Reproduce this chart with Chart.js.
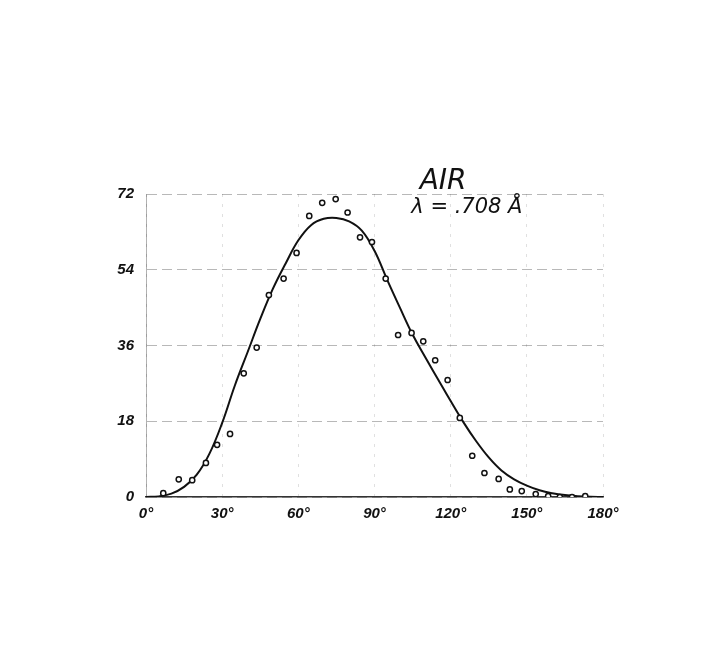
<!DOCTYPE html>
<html>
<head>
<meta charset="utf-8">
<script src="https://cdn.jsdelivr.net/npm/chart.js@4/dist/chart.umd.min.js"></script>
<style>
  html, body { margin: 0; padding: 0; background: #fff; }
  #wrap { width: 728px; height: 652px; }
</style>
</head>
<body>
<div id="wrap"><canvas id="airChart" width="728" height="652"></canvas></div>
<script>
// measured points (open circles)
var obsAngle = [6.8, 12.9, 18.2, 23.6, 28, 33.1, 38.5, 43.6, 48.4, 54.2, 59.3, 64.3, 69.4, 74.7, 79.4, 84.3, 89,
    94.4, 99.3, 104.6, 109.2, 113.9, 118.8, 123.6, 128.5, 133.3, 138.9, 143.3, 148, 153.5, 158.4, 163, 167.8, 173];
var obsValue = [0.9, 4.2, 4.0, 8.1, 12.4, 15.0, 29.4, 35.5, 48.0, 51.9, 58.0, 66.8, 69.9, 70.8, 67.6, 61.7, 60.6,
    51.9, 38.5, 39.0, 37.0, 32.5, 27.8, 18.8, 9.8, 5.7, 4.3, 1.8, 1.4, 0.7, 0.2, 0, 0, 0.2];

// smooth curve
var curveAngle = [0, 5, 10, 15, 20, 25, 30, 35, 40, 45, 50, 55, 60, 65, 70, 75, 80, 85, 90,
    95, 100, 105, 110, 115, 120, 125, 130, 135, 140, 145, 150, 155, 160, 165, 170, 175, 180];
var curveValue = [0, 0.15, 0.8, 2.4, 5.3, 10.3, 17.6, 26.5, 34.4, 42.3, 49.5, 55.5, 61, 64.6, 66.1, 66.3, 65.5, 63.3, 58.5,
    51.6, 45, 38.6, 33.2, 28, 22.8, 17.8, 13.3, 9.4, 6.3, 4.2, 2.7, 1.6, 0.9, 0.45, 0.2, 0.05, 0];

var yTicks = [0, 18, 36, 54, 72];
var xTicks = [0, 30, 60, 90, 120, 150, 180];

function pairs(xs, ys) {
    return xs.map(function (x, i) { return {x: x, y: ys[i]}; });
}

var labelFont = {family: "Liberation Sans", size: 15, style: "italic", weight: "bold"};

// hand lettered notes on the right
var notes = {
    id: "notes",
    afterDraw: function (chart) {
        var c = chart.ctx;
        var xs = chart.scales.x, ys = chart.scales.y;
        c.save();
        c.fillStyle = "#111";
        c.textBaseline = "alphabetic";
        c.font = "italic 300 28px 'DejaVu Sans'";
        c.fillText("AIR", xs.getPixelForValue(107.8), ys.getPixelForValue(72 + (194 - 189) / 4.21));
        c.font = "italic 300 21px 'DejaVu Sans'";
        c.fillText("\u03BB = .708 \u00C5", xs.getPixelForValue(104.5), ys.getPixelForValue(72 - (213 - 194) / 4.21));
        c.restore();
    }
};

var ctx = document.getElementById("airChart").getContext("2d");
var chart = new Chart(ctx, {
    type: "scatter",
    data: {
        datasets: [
            {
                label: "curve",
                data: pairs(curveAngle, curveValue),
                showLine: true,
                borderColor: "#111",
                borderWidth: 2,
                pointRadius: 0,
                tension: 0.4,
                order: 2
            },
            {
                label: "measured",
                data: pairs(obsAngle, obsValue),
                showLine: false,
                pointStyle: "circle",
                pointRadius: 2.6,
                pointBorderWidth: 1.5,
                pointBorderColor: "#111",
                pointBackgroundColor: "#fff",
                order: 1
            }
        ]
    },
    options: {
        responsive: false,
        animation: false,
        layout: {padding: {left: 100, right: 125, top: 194, bottom: 115}},
        plugins: {legend: {display: false}, tooltip: {enabled: false}},
        scales: {
            x: {
                type: "linear",
                min: 0, max: 180,
                afterBuildTicks: function (s) { s.ticks = xTicks.map(function (v) { return {value: v}; }); },
                afterFit: function (s) { s.height = 40; },
                ticks: {
                    color: "#111",
                    font: labelFont,
                    padding: 8,
                    callback: function (v) { return v + "\u00B0"; }
                },
                grid: {color: "rgba(0,0,0,0.12)", drawTicks: false, lineWidth: 1},
                border: {display: true, color: "#333", width: 1.5, dash: [3, 7]}
            },
            y: {
                min: 0, max: 72,
                afterBuildTicks: function (s) { s.ticks = yTicks.map(function (v) { return {value: v}; }); },
                afterFit: function (s) { s.width = 46; },
                ticks: {color: "#111", font: labelFont, padding: 12},
                grid: {color: "rgba(0,0,0,0.28)", drawTicks: false, lineWidth: 1},
                border: {display: true, color: "rgba(0,0,0,0.3)", width: 1, dash: [10, 5]}
            }
        }
    },
    plugins: [notes]
});
</script>
</body>
</html>
